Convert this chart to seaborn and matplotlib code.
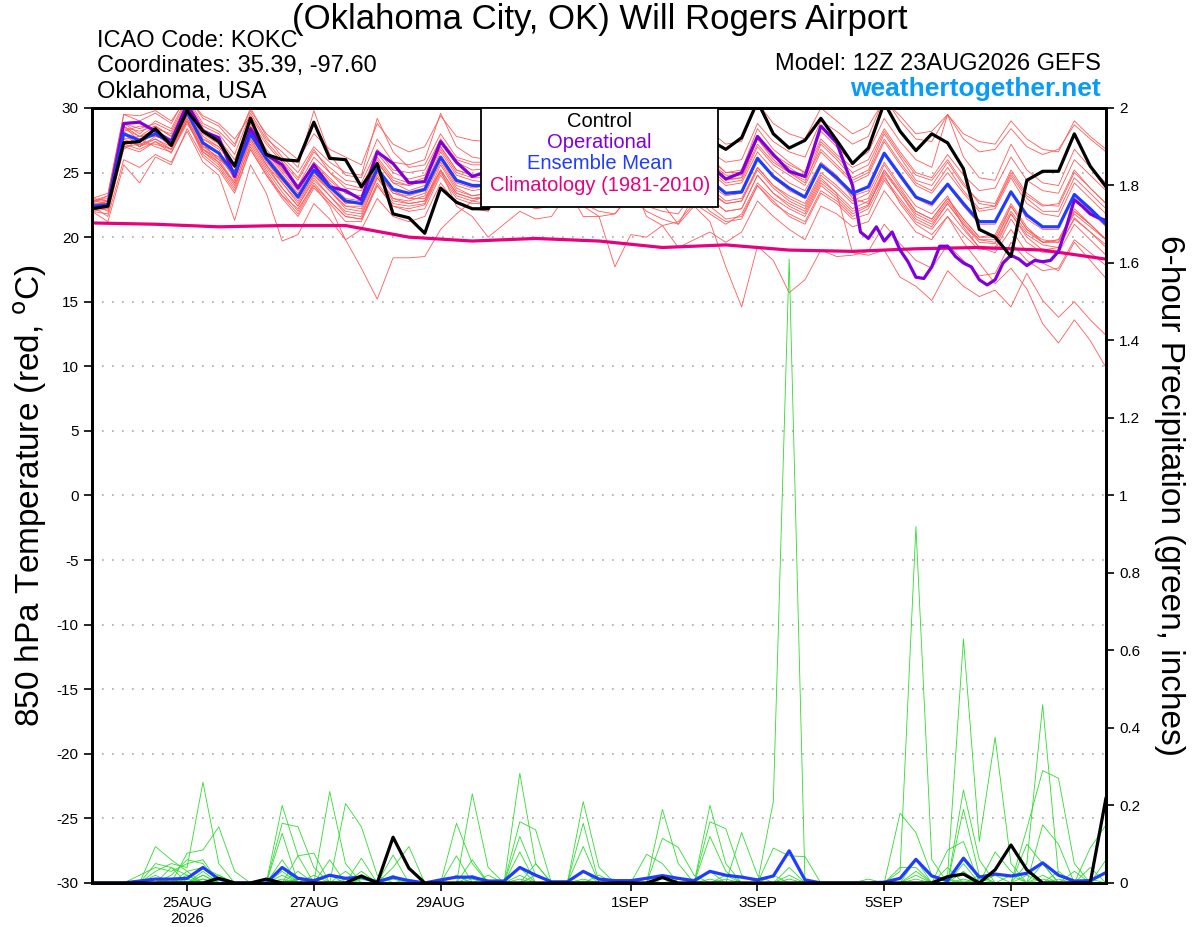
import numpy as np
import pandas as pd
import seaborn as sns
import matplotlib.pyplot as plt
from matplotlib.patches import Rectangle

sns.set_style('ticks')
plt.rcParams['font.family'] = ['Liberation Sans', 'DejaVu Sans']
plt.rcParams['axes.unicode_minus'] = False
plt.rcParams.update({'text.color': 'black', 'axes.labelcolor': 'black',
                     'xtick.color': 'black', 'ytick.color': 'black'})

# GEFS run 12Z 23AUG2026, 6-hourly out to 384 h
run_start = pd.Timestamp('2026-08-23 12:00')
hours = list(range(0, 385, 6))

# 850 hPa temperature (C)
control_t = [22.2, 22.4, 27.3, 27.4, 28.4, 27.1, 29.8, 28.2, 27.4, 25.5,
             29.2, 26.4, 26.0, 25.9, 28.9, 26.1, 26.0, 23.9, 25.7, 21.8,
             21.5, 20.3, 23.8, 22.7, 22.2, 22.2, 24.5, 25.0, 24.8, 24.0,
             26.5, 25.5, 25.0, 24.5, 26.8, 25.8, 25.2, 24.8, 27.5, 27.5,
             26.8, 27.7, 30.5, 28.0, 26.9, 27.5, 29.2, 27.5, 25.7, 26.9,
             30.4, 28.2, 26.7, 28.0, 27.3, 25.3, 20.6, 20.0, 18.5, 24.4,
             25.1, 25.1, 28.0, 25.5, 23.9]
mean_t = [22.4, 22.5, 28.0, 27.5, 28.0, 27.3, 29.7, 27.3, 26.5, 24.9,
          28.0, 26.1, 24.6, 23.1, 25.2, 23.9, 22.8, 22.6, 25.3, 23.7,
          23.4, 23.7, 26.2, 24.4, 24.0, 24.0, 25.6, 24.6, 24.2, 24.3,
          25.8, 24.5, 24.0, 23.9, 25.5, 24.4, 24.0, 23.8, 25.6, 24.4,
          23.4, 23.5, 26.1, 24.7, 23.8, 23.1, 25.6, 24.6, 23.4, 23.9,
          26.5, 24.8, 23.1, 22.6, 24.1, 22.6, 21.2, 21.2, 23.5, 21.7,
          20.8, 20.8, 23.3, 22.2, 21.0]
oper_hours = list(range(0, 288, 6)) + list(range(288, 385, 3))
oper_t = [22.2, 22.5, 28.8, 28.9, 28.2, 27.4, 30.3, 28.2, 27.7, 24.7,
          28.4, 26.4, 25.6, 23.8, 25.6, 23.9, 23.6, 22.9, 26.6, 25.7,
          24.2, 24.3, 27.4, 25.8, 24.7, 25.1, 26.0, 25.2, 24.8, 24.6,
          26.5, 25.3, 24.8, 24.6, 26.2, 25.0, 24.6, 24.4, 26.0, 25.6,
          24.5, 25.0, 27.8, 26.4, 25.1, 24.7, 28.6, 27.3,
          24.0, 20.4, 19.9, 20.8, 19.7, 20.4, 19.0, 18.1, 16.9, 16.8,
          17.7, 19.3, 19.3, 18.5, 18.0, 17.7, 16.7, 16.3, 16.7, 18.0,
          18.6, 18.3, 17.8, 18.2, 18.1, 18.2, 18.9, 20.8, 22.9, 22.4,
          21.8, 21.5, 21.3]
clim_hours = list(range(0, 385, 24))
clim_t = [21.1, 21.0, 20.8, 20.9, 20.9, 20.0, 19.7, 19.9, 19.7,
          19.2, 19.4, 19.0, 18.9, 19.1, 19.2, 19.0, 18.3]

# ensemble members
t01 = [22.8, 23.0, 28.5, 28.2, 28.6, 27.8, 30.3, 28.0, 27.2, 25.6, 28.8, 26.8, 25.3, 24.0, 26.2,
       25.0, 24.1, 23.8, 26.5, 25.0, 24.5, 24.8, 27.5, 25.8, 25.2, 25.3, 26.8, 25.8, 25.2, 25.5,
       27.0, 25.6, 25.0, 24.8, 26.8, 25.4, 25.0, 24.8, 27.0, 25.6, 24.5, 24.6, 27.6, 26.0, 25.0,
       24.2, 27.2, 26.0, 24.6, 25.2, 28.0, 26.2, 24.4, 24.0, 25.8, 24.0, 22.8, 22.6, 25.2, 23.4,
       22.5, 22.4, 25.0, 23.8, 22.6]
t02 = [22.0, 22.2, 27.2, 26.8, 27.4, 26.5, 29.0, 26.6, 25.6, 23.8, 27.2, 25.2, 23.5, 22.0, 24.2,
       22.8, 21.6, 21.4, 24.0, 22.4, 22.2, 22.5, 25.0, 23.2, 22.8, 22.6, 24.4, 23.4, 23.0, 23.2,
       24.6, 23.2, 22.8, 22.6, 24.2, 23.0, 22.6, 22.4, 24.2, 23.0, 22.0, 22.2, 24.8, 23.4, 22.4,
       21.8, 24.2, 23.2, 22.0, 22.5, 25.0, 23.4, 21.6, 21.0, 22.6, 21.0, 19.6, 19.5, 21.8, 20.0,
       19.0, 19.2, 21.5, 20.4, 19.2]
t03 = [23.0, 23.4, 29.5, 29.0, 29.6, 28.8, 31.0, 29.2, 28.6, 27.2, 29.8, 28.0, 27.0, 26.0, 28.0,
       26.8, 26.2, 25.6, 28.8, 27.2, 26.6, 27.0, 29.4, 27.8, 27.5, 27.4, 29.0, 28.0, 27.6, 27.8,
       29.2, 27.8, 27.4, 27.2, 29.0, 28.0, 27.6, 27.4, 29.2, 28.2, 27.2, 27.4, 30.4, 28.8, 28.0,
       27.6, 30.0, 29.0, 28.0, 28.6, 30.6, 29.4, 28.0, 28.2, 29.5, 28.0, 27.4, 27.2, 29.0, 27.6,
       26.8, 26.6, 29.0, 27.8, 26.8]
t04 = [22.6, 22.0, 26.8, 27.6, 27.0, 26.6, 28.8, 26.8, 25.8, 24.0, 27.0, 25.0, 23.2, 22.2, 24.0,
       22.4, 19.8, 17.6, 15.2, 18.4, 18.4, 18.5, 20.6, 21.8, 22.8, 23.2, 25.0, 24.0, 23.6, 23.8,
       25.2, 24.0, 23.4, 23.2, 24.8, 23.6, 23.2, 23.0, 24.8, 23.8, 22.8, 23.0, 25.4, 24.0, 23.0,
       22.4, 24.8, 23.8, 22.6, 23.0, 25.6, 23.8, 22.0, 21.4, 23.0, 21.4, 20.0, 20.2, 22.6, 20.8,
       19.6, 19.8, 22.2, 21.0, 19.8]
t05 = [22.2, 22.6, 28.2, 27.0, 28.4, 27.0, 29.4, 27.6, 26.8, 24.4, 28.4, 26.4, 24.8, 23.4, 25.6,
       24.2, 23.0, 22.8, 25.8, 24.2, 23.6, 24.0, 26.6, 24.8, 24.4, 24.2, 25.8, 24.0, 23.2, 22.8,
       23.8, 21.6, 21.6, 17.7, 20.2, 20.0, 20.9, 21.2, 22.6, 21.8, 21.0, 21.8, 24.2, 23.0, 22.2,
       21.6, 24.0, 23.0, 21.8, 22.4, 25.2, 23.4, 21.8, 21.2, 22.8, 21.2, 19.8, 19.6, 22.4, 20.6,
       19.8, 19.6, 22.0, 21.0, 19.8]
t06 = [22.8, 22.8, 27.6, 27.8, 27.8, 27.6, 30.0, 27.2, 26.0, 25.2, 28.2, 26.0, 24.2, 22.6, 24.8,
       23.6, 22.2, 22.0, 24.8, 23.0, 22.8, 23.2, 25.8, 23.8, 23.2, 23.4, 25.2, 24.2, 23.6, 24.0,
       25.4, 24.0, 23.6, 23.2, 24.6, 23.4, 22.6, 21.0, 22.4, 21.2, 17.7, 14.6, 19.3, 18.2, 15.7,
       16.7, 19.0, 18.5, 18.6, 18.9, 21.0, 19.5, 18.2, 17.6, 19.4, 18.2, 17.0, 17.2, 19.6, 18.2,
       17.4, 17.6, 19.8, 18.8, 17.8]
t07 = [22.4, 22.8, 28.4, 27.8, 28.2, 27.6, 30.1, 27.8, 27.0, 25.4, 28.6, 26.6, 25.0, 23.6, 25.8,
       24.4, 23.4, 23.0, 25.8, 24.2, 24.0, 24.4, 26.8, 25.0, 24.6, 24.6, 26.4, 25.4, 25.0, 25.0,
       26.4, 25.0, 24.6, 24.4, 26.0, 25.0, 24.6, 24.4, 26.2, 25.0, 24.0, 24.2, 26.6, 25.2, 24.2,
       23.6, 25.8, 24.8, 23.0, 22.6, 24.8, 22.6, 21.0, 20.2, 21.6, 19.6, 18.0, 16.4, 17.6, 16.0,
       13.3, 11.8, 13.6, 12.0, 9.9]
t08 = [22.0, 21.8, 27.0, 26.6, 27.4, 26.8, 29.2, 26.8, 26.0, 24.2, 27.6, 25.6, 23.8, 22.4, 24.6,
       23.2, 21.8, 21.6, 24.6, 22.8, 22.6, 22.8, 25.6, 23.6, 23.2, 23.4, 24.8, 23.8, 23.4, 23.6,
       25.0, 23.8, 23.2, 23.0, 24.6, 23.6, 23.2, 23.0, 24.8, 23.6, 22.6, 22.8, 25.2, 23.8, 22.8,
       22.2, 24.6, 23.4, 18.8, 18.6, 19.0, 16.9, 16.2, 15.1, 17.4, 16.2, 15.4, 15.9, 14.6, 17.2,
       15.1, 13.8, 15.0, 13.6, 12.4]
t09 = [22.6, 22.6, 28.8, 28.4, 28.8, 28.2, 30.6, 28.6, 28.0, 26.4, 29.6, 27.6, 26.6, 25.4, 29.8,
       26.4, 24.8, 24.6, 27.6, 25.8, 25.6, 26.0, 29.6, 27.0, 26.2, 26.0, 27.6, 26.4, 26.0, 26.2,
       27.6, 26.2, 25.8, 25.6, 27.4, 26.0, 25.6, 25.4, 27.6, 26.2, 25.0, 25.2, 28.4, 26.8, 25.8,
       25.0, 28.2, 27.0, 25.8, 26.6, 29.2, 27.4, 26.0, 25.4, 29.5, 26.2, 24.6, 24.4, 27.2, 25.2,
       24.2, 24.0, 26.8, 25.4, 24.2]
t10 = [22.4, 21.6, 26.0, 25.4, 26.4, 25.8, 28.2, 25.8, 24.8, 21.3, 25.6, 23.4, 19.7, 20.2, 22.6,
       21.4, 19.8, 20.6, 23.0, 21.6, 21.2, 21.6, 24.2, 22.6, 22.2, 22.0, 23.8, 22.6, 22.2, 22.4,
       23.8, 22.6, 22.0, 21.8, 23.4, 22.4, 22.0, 21.8, 23.6, 22.4, 21.4, 21.6, 24.0, 22.6, 21.8,
       21.2, 23.6, 22.8, 21.6, 22.2, 24.6, 23.0, 21.4, 20.8, 22.6, 21.0, 19.8, 19.8, 22.0, 20.4,
       19.6, 19.6, 21.8, 20.8, 19.8]
t11 = [22.6, 22.4, 28.0, 27.0, 27.8, 27.4, 29.6, 27.0, 26.2, 25.0, 27.8, 25.8, 24.4, 23.0, 25.0,
       23.6, 22.4, 22.4, 25.0, 23.4, 23.0, 23.4, 26.0, 24.0, 23.6, 23.8, 25.4, 24.4, 24.0, 24.2,
       25.6, 24.2, 23.8, 23.6, 25.2, 24.2, 23.8, 23.6, 25.4, 24.0, 23.2, 23.4, 26.2, 24.6, 23.6,
       23.0, 25.6, 24.4, 23.2, 23.6, 26.4, 24.6, 23.0, 22.4, 24.0, 22.4, 21.0, 21.0, 23.6, 21.4,
       20.6, 20.6, 23.4, 22.0, 20.8]
t12 = [22.8, 23.2, 28.6, 27.4, 28.0, 27.0, 29.2, 26.8, 26.2, 24.6, 27.6, 25.6, 24.2, 22.8, 24.8,
       23.6, 22.4, 22.2, 25.0, 23.4, 23.2, 23.6, 26.0, 24.2, 23.8, 24.0, 25.8, 25.0, 24.8, 25.0,
       26.6, 25.4, 25.0, 25.0, 26.8, 25.8, 25.6, 25.6, 27.6, 26.6, 25.8, 26.0, 28.8, 27.4, 26.6,
       26.2, 29.0, 28.2, 27.2, 27.8, 30.8, 29.0, 27.6, 27.4, 29.5, 27.6, 26.6, 26.8, 28.4, 27.0,
       26.4, 26.8, 28.7, 27.6, 26.6]
t13 = [22.2, 22.2, 27.4, 27.2, 27.6, 27.0, 29.4, 27.0, 26.6, 24.8, 27.8, 26.0, 24.4, 23.2, 25.0,
       23.8, 22.6, 22.6, 25.2, 23.6, 23.0, 23.0, 25.2, 22.4, 21.6, 20.0, 21.0, 22.0, 21.4, 21.6,
       23.4, 22.4, 21.6, 21.8, 23.2, 22.0, 21.4, 21.0, 23.2, 22.0, 21.2, 21.4, 24.0, 22.8, 21.6,
       21.0, 23.4, 22.6, 21.4, 21.8, 24.4, 22.8, 21.2, 20.6, 22.2, 20.6, 19.2, 19.0, 21.4, 19.6,
       18.8, 18.8, 21.0, 19.8, 18.6]
t14 = [23.0, 22.8, 28.2, 28.6, 28.4, 28.0, 30.4, 28.4, 27.6, 26.0, 29.0, 27.2, 25.8, 24.4, 26.6,
       25.4, 24.4, 24.2, 26.8, 25.2, 25.0, 25.2, 27.6, 26.0, 25.6, 25.6, 27.2, 26.2, 25.8, 26.0,
       27.4, 26.0, 25.6, 25.4, 27.0, 25.8, 25.4, 25.2, 27.2, 26.0, 25.0, 25.0, 27.8, 26.4, 25.6,
       25.0, 27.6, 26.4, 25.4, 26.0, 28.4, 26.6, 25.0, 24.6, 26.4, 24.8, 23.6, 23.8, 26.2, 24.4,
       23.6, 23.4, 26.0, 24.8, 23.6]
t15 = [22.4, 22.4, 27.6, 27.0, 27.6, 26.8, 29.0, 26.6, 25.8, 24.2, 27.4, 25.4, 23.8, 22.4, 24.4,
       23.2, 22.0, 21.8, 24.6, 23.0, 22.6, 22.8, 25.2, 23.4, 23.0, 23.0, 24.6, 23.6, 23.2, 23.4,
       24.8, 23.6, 23.0, 22.8, 24.4, 21.6, 20.9, 19.2, 19.8, 20.4, 19.6, 20.4, 22.8, 21.6, 20.6,
       19.8, 22.4, 21.8, 20.8, 21.2, 23.6, 22.0, 20.4, 19.8, 21.6, 20.2, 19.0, 19.2, 21.8, 20.2,
       19.4, 19.2, 21.4, 20.4, 19.4]
t16 = [22.8, 22.6, 28.8, 28.0, 29.0, 28.4, 30.8, 28.8, 28.2, 27.0, 30.0, 27.8, 26.2, 25.0, 27.0,
       25.8, 25.0, 24.8, 29.2, 26.6, 25.4, 25.6, 28.0, 26.2, 25.8, 25.8, 27.4, 26.0, 25.6, 25.8,
       27.2, 25.8, 25.4, 25.4, 27.2, 25.8, 25.4, 25.2, 27.4, 25.8, 24.8, 24.8, 27.6, 26.2, 25.4,
       24.6, 27.4, 26.2, 25.0, 25.6, 28.2, 26.4, 24.8, 24.4, 26.0, 24.2, 22.6, 22.4, 25.0, 23.2,
       22.4, 22.6, 25.2, 23.8, 22.6]
t17 = [22.2, 22.4, 27.0, 27.2, 27.2, 26.8, 29.0, 26.4, 25.4, 23.6, 26.8, 24.8, 23.0, 21.6, 23.8,
       22.6, 21.2, 21.2, 24.0, 22.4, 22.0, 22.2, 24.8, 23.0, 22.6, 22.6, 24.2, 23.2, 22.8, 23.0,
       24.4, 23.2, 22.6, 22.4, 24.0, 23.0, 22.6, 22.4, 24.2, 23.0, 22.0, 22.2, 24.8, 23.4, 22.6,
       22.0, 24.4, 23.4, 22.2, 22.8, 25.2, 23.6, 22.0, 21.4, 23.0, 21.4, 20.0, 20.0, 22.4, 20.6,
       19.6, 19.8, 22.0, 21.0, 19.8]
t18 = [22.6, 23.2, 29.5, 29.4, 29.8, 29.0, 30.8, 29.4, 28.8, 27.6, 29.4, 27.4, 26.0, 24.6, 26.8,
       25.0, 23.8, 23.6, 26.2, 24.6, 24.2, 24.6, 27.0, 25.2, 24.8, 24.8, 26.6, 25.6, 25.2, 25.4,
       26.8, 25.4, 25.0, 24.8, 26.4, 25.2, 24.8, 24.6, 26.6, 25.4, 24.4, 24.6, 27.2, 25.8, 25.0,
       24.4, 26.8, 25.6, 24.4, 25.0, 27.6, 25.8, 24.2, 23.6, 25.4, 23.6, 22.2, 22.4, 24.8, 23.0,
       22.0, 22.0, 24.6, 23.4, 22.2]
t19 = [22.0, 21.2, 25.6, 24.2, 26.2, 25.6, 28.4, 26.2, 25.2, 23.4, 26.8, 24.8, 23.2, 21.8, 24.0,
       22.8, 21.6, 21.4, 24.2, 22.6, 22.4, 22.6, 25.2, 23.4, 23.0, 23.2, 24.8, 23.8, 23.4, 23.6,
       25.0, 23.8, 23.4, 23.0, 24.6, 23.6, 23.2, 22.8, 24.6, 23.4, 22.6, 22.8, 25.4, 24.0, 23.2,
       22.6, 25.0, 24.0, 22.8, 23.4, 25.8, 24.0, 22.4, 21.8, 23.2, 20.8, 19.2, 18.8, 20.6, 18.8,
       18.0, 17.4, 19.6, 18.2, 16.8]
t20 = [22.4, 22.8, 28.6, 27.8, 28.6, 27.8, 30.2, 27.6, 27.0, 25.4, 28.6, 26.6, 25.2, 23.8, 25.8,
       24.6, 23.4, 23.2, 26.0, 24.4, 24.0, 24.4, 27.0, 25.2, 24.8, 24.8, 26.4, 25.4, 25.0, 25.2,
       26.6, 25.4, 24.8, 24.6, 26.4, 25.2, 24.8, 24.6, 26.6, 25.2, 24.2, 24.4, 27.0, 25.6, 24.8,
       24.0, 26.6, 25.4, 24.2, 24.8, 27.4, 25.6, 24.0, 23.4, 25.0, 23.4, 22.0, 22.2, 24.6, 22.6,
       21.8, 21.6, 24.2, 23.0, 21.8]
temp_members = [t01, t02, t03, t04, t05, t06, t07, t08, t09, t10,
                t11, t12, t13, t14, t15, t16, t17, t18, t19, t20]

# 6-hour precipitation (inches): control and ensemble mean
control_p = {8: 0.012, 11: 0.01, 17: 0.018, 19: 0.118, 20: 0.038, 36: 0.014,
             54: 0.016, 55: 0.023, 57: 0.034, 58: 0.098, 59: 0.034, 64: 0.22}
mean_p = [0, 0, 0, 0.005, 0.01, 0.01, 0.012, 0.04, 0.01, 0.0,
          0, 0, 0.04, 0.012, 0.006, 0.02, 0.012, 0.015, 0.003, 0.015,
          0.006, 0, 0.008, 0.015, 0.015, 0.005, 0.005, 0.04, 0.02, 0.003,
          0.003, 0.03, 0.01, 0.006, 0.006, 0.012, 0.019, 0.012, 0.006, 0.03,
          0.02, 0.015, 0.008, 0.018, 0.083, 0.008, 0, 0, 0, 0,
          0.002, 0.012, 0.061, 0.018, 0.006, 0.064, 0.015, 0.023, 0.018, 0.025,
          0.052, 0.02, 0.005, 0.006, 0.027]
# members: nonzero 6-h totals by step index
p01 = {4: 0.03, 5: 0.05, 6: 0.04, 7: 0.26, 8: 0.05, 12: 0.2, 13: 0.07, 27: 0.12, 28: 0.02,
       43: 0.21, 44: 1.61, 52: 0.06, 55: 0.19, 56: 0.02}
p02 = {6: 0.077, 7: 0.085, 8: 0.145, 9: 0.03, 15: 0.236, 16: 0.05, 24: 0.06, 31: 0.21,
       32: 0.04, 51: 0.03, 52: 0.92, 53: 0.06, 60: 0.15, 61: 0.1}
p03 = {4: 0.094, 5: 0.06, 6: 0.03, 12: 0.154, 13: 0.145, 14: 0.04, 19: 0.072, 27: 0.283,
       28: 0.05, 39: 0.2, 40: 0.05, 54: 0.02, 55: 0.63, 56: 0.107, 57: 0.376, 58: 0.05}
p04 = {3: 0.02, 4: 0.04, 5: 0.03, 6: 0.05, 7: 0.06, 12: 0.128, 16: 0.205, 17: 0.145, 18: 0.02,
       23: 0.154, 24: 0.05, 36: 0.19, 37: 0.05, 59: 0.05, 60: 0.46, 61: 0.02}
p05 = {5: 0.02, 6: 0.06, 7: 0.05, 13: 0.07, 14: 0.077, 17: 0.064, 24: 0.23, 25: 0.04,
       27: 0.158, 28: 0.137, 39: 0.158, 40: 0.14, 41: 0.02, 59: 0.14, 60: 0.29, 61: 0.27, 62: 0.05}
p06 = {4: 0.05, 5: 0.04, 7: 0.03, 12: 0.06, 15: 0.06, 19: 0.04, 20: 0.094, 31: 0.154,
       36: 0.115, 37: 0.092, 38: 0.02, 55: 0.24, 56: 0.06, 63: 0.09, 64: 0.15}
p07 = {6: 0.03, 7: 0.04, 8: 0.02, 12: 0.03, 23: 0.07, 27: 0.08, 31: 0.094, 35: 0.074,
       36: 0.05, 39: 0.12, 40: 0.03, 43: 0.09, 44: 0.07, 45: 0.068, 51: 0.18, 52: 0.13, 53: 0.02}
p08 = {5: 0.04, 6: 0.02, 13: 0.03, 17: 0.03, 25: 0.02, 28: 0.05, 41: 0.13, 42: 0.02,
       54: 0.085, 55: 0.107, 59: 0.1, 60: 0.05, 64: 0.06}
p09 = {4: 0.01, 7: 0.02, 12: 0.04, 16: 0.03, 32: 0.02, 44: 0.04, 51: 0.04, 52: 0.04,
       54: 0.04, 57: 0.08, 58: 0.03, 63: 0.04}
p10 = {6: 0.01, 8: 0.02, 14: 0.02, 27: 0.04, 40: 0.02, 55: 0.05, 60: 0.05, 62: 0.03}
p11 = {7: 0.02, 12: 0.02, 19: 0.02, 23: 0.02, 31: 0.03, 43: 0.02, 52: 0.02, 55: 0.03, 61: 0.03}
p12 = {5: 0.01, 13: 0.01, 24: 0.02, 36: 0.02, 44: 0.02, 56: 0.02, 60: 0.02}
p13 = {6: 0.02, 16: 0.01, 28: 0.02, 39: 0.03, 52: 0.03, 59: 0.02, 64: 0.03}
p14 = {7: 0.01, 15: 0.02, 27: 0.02, 37: 0.01, 55: 0.01, 58: 0.02}
p15 = {4: 0.02, 12: 0.01, 20: 0.01, 31: 0.01, 40: 0.01, 57: 0.02, 63: 0.01}
p16 = {8: 0.01, 17: 0.01, 35: 0.01, 52: 0.01, 60: 0.01}
p17 = {6: 0.005, 13: 0.01, 24: 0.01, 44: 0.01, 54: 0.01}
p18 = {7: 0.01, 27: 0.01, 49: 0.01, 61: 0.01}
p19 = {5: 0.005, 19: 0.01, 39: 0.01, 56: 0.01}
p20 = {12: 0.005, 31: 0.005, 55: 0.005}
precip_members = [p01, p02, p03, p04, p05, p06, p07, p08, p09, p10,
                  p11, p12, p13, p14, p15, p16, p17, p18, p19, p20]

tick_dates = ['2026-08-25', '2026-08-27', '2026-08-29', '2026-09-01',
              '2026-09-03', '2026-09-05', '2026-09-07']
tick_labels = ['25AUG\n2026', '27AUG', '29AUG', '1SEP', '3SEP', '5SEP', '7SEP']


def spikes_to_series(spikes):
    vals = np.zeros(len(hours))
    for i, v in spikes.items():
        vals[i] = v
    return vals


tdf = pd.concat([pd.DataFrame({'hour': hours, 'temp': m, 'member': k})
                 for k, m in enumerate(temp_members)])
pdf = pd.concat([pd.DataFrame({'hour': hours, 'precip': spikes_to_series(s), 'member': k})
                 for k, s in enumerate(precip_members)])

fig = plt.figure(figsize=(12, 9.27), dpi=100)
ax = fig.add_axes([0.0767, 0.0475, 0.845, 0.836])
ax2 = ax.twinx()

# temperature
sns.lineplot(data=tdf, x='hour', y='temp', units='member', estimator=None,
             color='#ff5a5a', linewidth=0.6, ax=ax, legend=False)
sns.lineplot(x=clim_hours, y=clim_t, color='#e8007e', linewidth=2.3, ax=ax)
sns.lineplot(x=oper_hours, y=oper_t, color='#8000dc', linewidth=2.3, ax=ax)
sns.lineplot(x=hours, y=mean_t, color='#1f3cff', linewidth=2.3, ax=ax)
sns.lineplot(x=hours, y=control_t, color='black', linewidth=2.3, ax=ax)

# precipitation
sns.lineplot(data=pdf, x='hour', y='precip', units='member', estimator=None,
             color='#2edc2e', linewidth=0.6, ax=ax2, legend=False)
sns.lineplot(x=hours, y=mean_p, color='#1f3cff', linewidth=2.3, ax=ax2)
sns.lineplot(x=hours, y=spikes_to_series(control_p), color='black', linewidth=2.3, ax=ax2)

ax.set_xlim(0, 384)
ax.set_ylim(-30, 30)
ax.set_yticks(range(-30, 31, 5))
ax2.set_ylim(0, 2)
ax2.set_yticks(np.arange(0, 2.01, 0.2))
ax2.set_yticklabels(['%g' % round(v, 1) for v in np.arange(0, 2.01, 0.2)])

tick_hours = [(pd.Timestamp(d) - run_start) / pd.Timedelta(hours=1) for d in tick_dates]
ax.set_xticks(tick_hours)
ax.set_xticklabels(tick_labels)

ax.yaxis.grid(True, linestyle=(0, (1, 5)), color='#aaaaaa', linewidth=1.2)
ax.xaxis.grid(False)
ax.set_xlabel('')
ax.set_ylabel('850 hPa Temperature (red, $^{\\rm o}$C)', fontsize=24, va='center')
ax.yaxis.set_label_coords(-0.061, 0.5)
ax2.set_ylabel('6-hour Precipitation (green, inches)', fontsize=24, rotation=270, va='center')
ax2.yaxis.set_label_coords(1.063, 0.5)

for a in (ax, ax2):
    a.tick_params(labelsize=11, length=6, width=1.2, direction='out', colors='black')
    for sp in a.spines.values():
        sp.set_visible(True)
        sp.set_linewidth(2)
        sp.set_color('black')

# legend box
ax2.add_patch(Rectangle((0.3836, 0.8723), 0.2338, 0.1277, transform=ax2.transAxes,
                        facecolor='white', edgecolor='black', linewidth=1.3, zorder=20,
                        clip_on=False))
legend_items = [('Control', 'black'), ('Operational', '#8000dc'),
                ('Ensemble Mean', '#1f3cff'), ('Climatology (1981-2010)', '#e8007e')]
for k, (txt, col) in enumerate(legend_items):
    ax2.text(0.5006, 0.983 - k * 0.0275, txt, color=col, fontsize=14.5,
             ha='center', va='center', transform=ax2.transAxes, zorder=21)

# header
fig.text(0.5, 1 - 19 / 927, '(Oklahoma City, OK) Will Rogers Airport', fontsize=25,
         ha='center', va='center')
fig.text(97 / 1200, 1 - 41 / 927, 'ICAO Code: KOKC', fontsize=17, va='center')
fig.text(97 / 1200, 1 - 66 / 927, 'Coordinates: 35.39, -97.60', fontsize=17, va='center')
fig.text(97 / 1200, 1 - 92 / 927, 'Oklahoma, USA', fontsize=17, va='center')
fig.text(1101 / 1200, 1 - 64 / 927, 'Model: 12Z 23AUG2026 GEFS', fontsize=17,
         ha='right', va='center')
fig.text(1101 / 1200, 1 - 89 / 927, 'weathertogether.net', fontsize=19, fontweight='bold',
         color='#0a9cf5', ha='right', va='center')

fig.savefig('out.png', dpi=100)
